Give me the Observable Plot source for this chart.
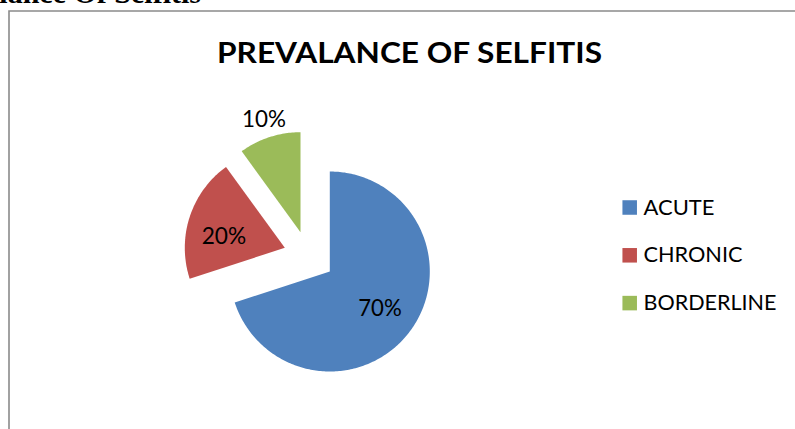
<!DOCTYPE html>
<html>
<head>
<meta charset="utf-8">
<script src="https://cdn.jsdelivr.net/npm/d3@7"></script>
<script src="https://cdn.jsdelivr.net/npm/@observablehq/plot@0.6"></script>
<style>
  html, body { margin: 0; padding: 0; background: #fff; }
  #wrap { position: relative; width: 795px; height: 429px; overflow: hidden; background: #fff; }
  #wrap > svg { position: absolute; left: 0; top: 0; }
  #deco { position: absolute; left: 0; top: 0; pointer-events: none; }
</style>
</head>
<body>
<div id="wrap">
  <svg id="deco" width="795" height="429">
    <text x="201" y="2.5" text-anchor="end" font-family="Liberation Serif" font-weight="bold" font-size="30" fill="#000">Prevalance Of Selfitis</text>
    <path d="M9,429 V11 H795" fill="none" stroke="#8a8a8a" stroke-width="1.6"/>
  </svg>
</div>
<script>
// ---- data ----
const title = "PREVALANCE OF SELFITIS";
const categories = ["ACUTE", "CHRONIC", "BORDERLINE"];
const values = [70, 20, 10];
const labels = ["70%", "20%", "10%"];
const colors = ["#4F81BD", "#C0504D", "#9BBB59"];

// ---- layout (pixels) ----
const CX = 329.3, CY = 271, R = 100;
const px2x = px => (px - CX) / R;
const py2y = py => (CY - py) / R;
// explode offsets (pixels) and label placement per slice
const explode = {ACUTE: [0, 0], CHRONIC: [-45, -23.7], BORDERLINE: [-29.3, -39.3]};
const labelPlace = {ACUTE: {r: 0.62, dy: 1}, CHRONIC: {r: 0.64, dy: 9}, BORDERLINE: {r: 1.18, dy: 0}};
const textWidths = {
  "PREVALANCE OF SELFITIS": 385,
  "ACUTE": 71, "CHRONIC": 99, "BORDERLINE": 133,
  "70%": 43.5, "20%": 44.5, "10%": 44
};

const arcs = d3.pie().sort(null)(values);
const piePoints = [];
const labelData = [];
arcs.forEach((a, i) => {
  const cat = categories[i];
  const ox = explode[cat][0] / R, oy = -explode[cat][1] / R;
  const N = Math.max(8, Math.ceil((a.endAngle - a.startAngle) * 60));
  piePoints.push({cat, x: ox, y: oy});
  for (let k = 0; k <= N; k++) {
    const t = a.startAngle + (a.endAngle - a.startAngle) * k / N;
    piePoints.push({cat, x: ox + Math.sin(t), y: oy + Math.cos(t)});
  }
  piePoints.push({cat, x: ox, y: oy});
  const mid = (a.startAngle + a.endAngle) / 2;
  const lp = labelPlace[cat];
  labelData.push({cat, text: labels[i], x: ox + lp.r * Math.sin(mid), y: oy + lp.r * Math.cos(mid) - lp.dy / R});
});

const legendData = categories.map((cat, i) => ({
  cat,
  x: px2x(629.2),
  tx: px2x(643),
  y: py2y(207 + i * 47.8)
}));

const chart = Plot.plot({
  width: 795,
  height: 429,
  margin: 0,
  x: {domain: [-1, 1], range: [CX - R, CX + R], axis: null},
  y: {domain: [-1, 1], range: [CY + R, CY - R], axis: null},
  color: {domain: categories, range: colors},
  style: {fontFamily: "Lato", background: "transparent", overflow: "visible", color: "#000"},
  marks: [
    Plot.line(piePoints, {x: "x", y: "y", z: "cat", fill: "cat", stroke: "none", curve: "linear"}),
    Plot.text(labelData, {x: "x", y: "y", text: "text", fontSize: 23, fill: "#000"}),
    Plot.text([{t: title, x: px2x(409), y: py2y(54)}], {x: "x", y: "y", text: "t", fontSize: 28, fontWeight: "bold", fill: "#000"}),
    Plot.dot(legendData, {x: "x", y: "y", symbol: "square", r: 8.2, fill: "cat", stroke: "none"}),
    Plot.text(legendData, {x: "tx", y: "y", text: "cat", textAnchor: "start", fontSize: 22, fill: "#000"})
  ]
});

chart.querySelectorAll("text").forEach(t => {
  const w = textWidths[t.textContent.trim()];
  if (w) {
    t.setAttribute("textLength", w);
    t.setAttribute("lengthAdjust", "spacingAndGlyphs");
  }
});

const wrap = document.getElementById("wrap");
wrap.insertBefore(chart, document.getElementById("deco"));
</script>
</body>
</html>
